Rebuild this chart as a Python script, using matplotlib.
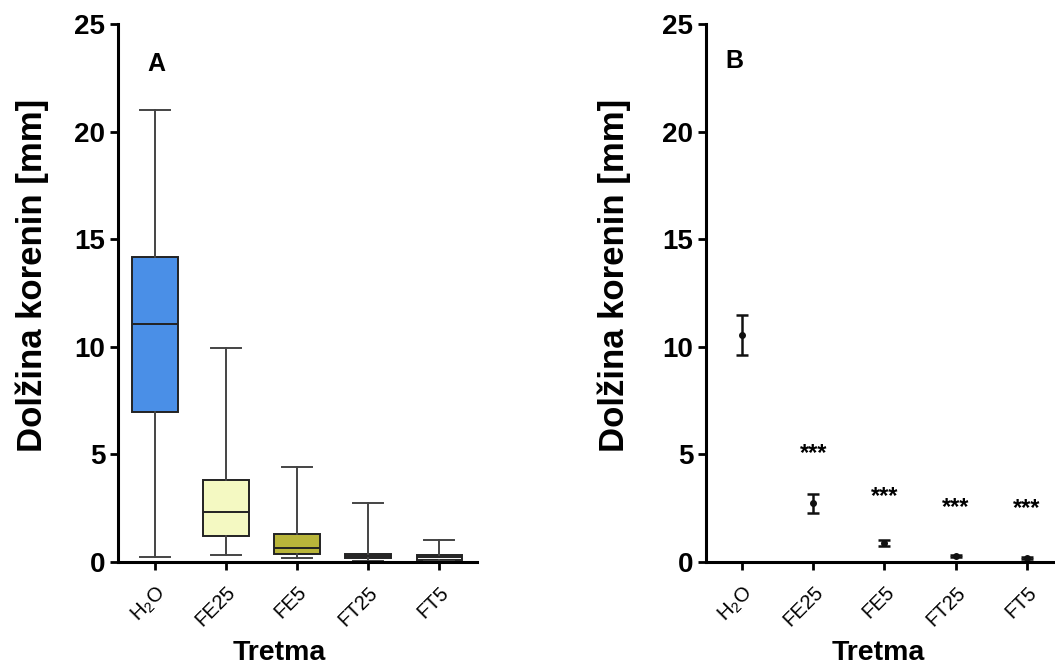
import numpy as np
import matplotlib
matplotlib.use("Agg")
import matplotlib.pyplot as plt

plt.rcParams['font.family'] = ['Liberation Sans', 'DejaVu Sans']
plt.rcParams['mathtext.default'] = 'regular'

# data
groups = ['H$_2$O', 'FE25', 'FE5', 'FT25', 'FT5']
whis_lo = [0.23, 0.31, 0.20, 0.06, 0.05]
q1 = [6.95, 1.21, 0.39, 0.20, 0.11]
med = [11.05, 2.31, 0.67, 0.28, 0.22]
q3 = [14.15, 3.83, 1.29, 0.39, 0.31]
whis_hi = [21.0, 9.96, 4.39, 2.72, 1.00]
box_colors = ['#4a8fe7', '#f4f9c2', '#b9b53a', '#e6d3d3', '#f2f2f2']

means = [10.55, 2.72, 0.87, 0.26, 0.17]
sem = [0.92, 0.45, 0.15, 0.05, 0.05]
star_y = [None, 5.05, 3.05, 2.55, 2.50]

fig = plt.figure(figsize=(10.55, 6.66), dpi=100)
axA = fig.add_axes([0.1118, 0.1562, 0.3403, 0.8078])
axB = fig.add_axes([0.6689, 0.1562, 0.3311, 0.8078])

x = np.arange(len(groups))

# panel A - box plots
stats = []
for i in range(len(groups)):
    stats.append(dict(whislo=whis_lo[i], q1=q1[i], med=med[i], q3=q3[i],
                      whishi=whis_hi[i], fliers=[]))
bp = axA.bxp(stats, positions=x, widths=0.64, capwidths=0.42,
             patch_artist=True, showfliers=False,
             boxprops=dict(linewidth=1.4, edgecolor='#222222'),
             medianprops=dict(color='#222222', linewidth=1.4),
             whiskerprops=dict(color='#444444', linewidth=1.4),
             capprops=dict(color='#444444', linewidth=1.4))
for patch, c in zip(bp['boxes'], box_colors):
    patch.set_facecolor(c)
axA.set_xlim(-0.52, 4.53)
axA.text(0.106, 0.926, 'A', transform=axA.transAxes, fontsize=18,
         fontweight='bold', ha='center', va='center')

# panel B - mean +/- SEM
axB.errorbar(x, means, yerr=sem, fmt='o', color='#111111', markersize=4,
             capsize=4.5, elinewidth=1.8, capthick=1.8)
for i in range(len(groups)):
    if star_y[i] is not None:
        axB.text(x[i], star_y[i], '***', ha='center', va='center',
                 fontsize=17, fontweight='bold')
axB.set_xlim(-0.515, 4.4)
axB.text(0.081, 0.931, 'B', transform=axB.transAxes, fontsize=18,
         fontweight='bold', ha='center', va='center')

for ax, xl_x, yl_x in ((axA, 0.448, -0.24), (axB, 0.494, -0.263)):
    ax.set_ylim(0, 25)
    ax.set_yticks([0, 5, 10, 15, 20, 25])
    ax.set_xticks(x)
    ax.set_xticklabels(groups, rotation=45, ha='right', rotation_mode='anchor',
                       fontsize=14.5)
    ax.tick_params(axis='y', labelsize=20, width=2, length=6, pad=3,
                   direction='out')
    ax.tick_params(axis='x', width=2, length=6, direction='out', pad=9)
    for lab in ax.get_yticklabels():
        lab.set_fontweight('bold')
    ax.spines['top'].set_visible(False)
    ax.spines['right'].set_visible(False)
    ax.spines['left'].set_linewidth(2.2)
    ax.spines['bottom'].set_linewidth(2.2)
    ax.set_ylabel('Dolžina korenin [mm]', fontsize=25, fontweight='bold')
    ax.yaxis.label.set_va('center')
    ax.yaxis.set_label_coords(yl_x, 0.533)
    ax.set_xlabel('Tretma', fontsize=20.5, fontweight='bold')
    ax.xaxis.label.set_va('center')
    ax.xaxis.set_label_coords(xl_x, -0.17)
    for a in [ax.spines['bottom'], ax.spines['left']]:
        a.set_clip_on(False)

fig.savefig('out.png', dpi=100)
